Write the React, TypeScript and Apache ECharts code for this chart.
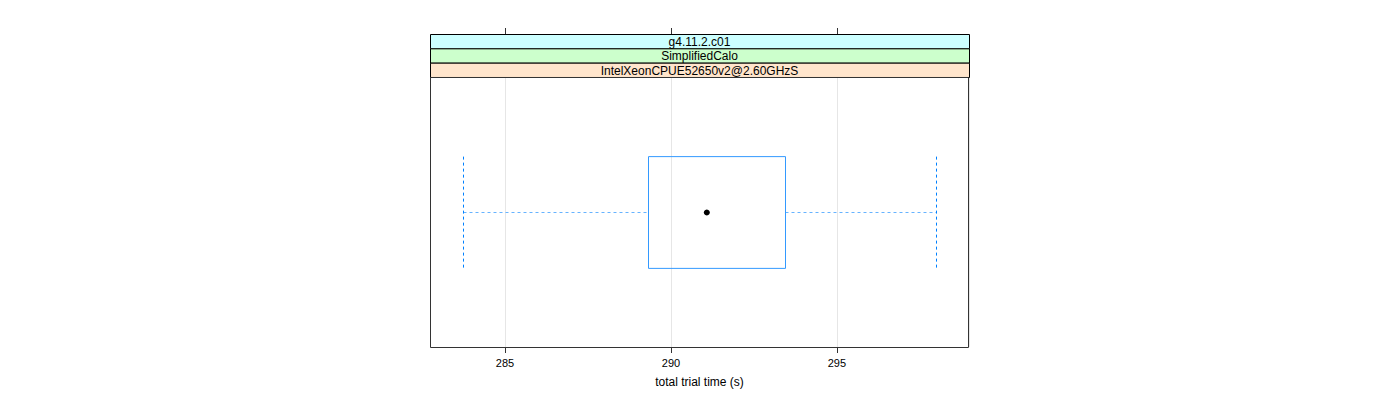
import React, { useEffect, useRef } from "react";
import * as echarts from "echarts";

const stripLabels = ["g4.11.2.c01", "SimplifiedCalo", "IntelXeonCPUE52650v2@2.60GHzS"];
const stripColors = ["#CCFFFF", "#CCFFCC", "#FFE5CC"];
const categories = ["IntelXeonCPUE52650v2@2.60GHzS"];
// [low whisker, Q1, median, Q3, high whisker]
const boxStats = [[283.74, 289.31, 291.08, 293.43, 297.98]];
const xTicks = [285, 290, 295];
const xMin = 282.74;
const xMax = 298.98;
const xTitle = "total trial time (s)";

const PANEL_LEFT = 430;
const PANEL_WIDTH = 539;
const STRIP_TOP = 34;
const STRIP_H = 14.33;
const PANEL_TOP = 77;
const PANEL_HEIGHT = 270;
const FONT = "'Liberation Sans', Arial, Helvetica, sans-serif";

export default function App() {
  const ref = useRef<HTMLDivElement>(null);
  useEffect(() => {
    document.body.style.margin = "0";
    if (!ref.current) return;
    const chart = echarts.init(ref.current, null, { renderer: "svg" });

    const graphics: any[] = stripLabels.map((label, i) => ({
      type: "group",
      children: [
        {
          type: "rect",
          shape: { x: PANEL_LEFT + 0.5, y: STRIP_TOP + i * STRIP_H + 0.5, width: PANEL_WIDTH, height: STRIP_H },
          style: { fill: stripColors[i], stroke: "#000", lineWidth: 1 },
          z: 10,
        },
        {
          type: "text",
          x: PANEL_LEFT + PANEL_WIDTH / 2,
          y: STRIP_TOP + i * STRIP_H + STRIP_H / 2 + 1,
          style: {
            text: label,
            fill: "#000",
            font: `12px ${FONT}`,
            align: "center",
            verticalAlign: "middle",
          },
          z: 11,
        },
      ],
    }));
    graphics.push({
      type: "rect",
      shape: { x: PANEL_LEFT + 0.5, y: PANEL_TOP + 0.5, width: PANEL_WIDTH - 1, height: PANEL_HEIGHT },
      style: { fill: "none", stroke: "#333", lineWidth: 1 },
      z: 20,
      silent: true,
    });

    const r = (v: number) => Math.round(v) + 0.5;
    const panelBottom = PANEL_TOP + PANEL_HEIGHT;

    const tickSeries = (y1: number, y2: number) => ({
      type: "custom",
      clip: false,
      silent: true,
      z: 30,
      encode: { x: 0 },
      data: xTicks.map((v) => [v]),
      renderItem: (params: any, api: any) => {
        const x = r(api.coord([api.value(0), 0])[0]);
        return {
          type: "rect",
          shape: { x: x - 0.5, y: y1, width: 1, height: y2 - y1 },
          style: { fill: "#333" },
        };
      },
    });

    const option: any = {
      animation: false,
      backgroundColor: "#fff",
      textStyle: { fontFamily: FONT },
      grid: [
        {
          left: PANEL_LEFT,
          width: PANEL_WIDTH,
          top: PANEL_TOP,
          height: PANEL_HEIGHT,
          show: false,
        },
      ],
      xAxis: [
        {
          type: "value",
          min: xMin,
          max: xMax,
          splitNumber: 3,
          name: xTitle,
          nameLocation: "middle",
          nameGap: 29,
          nameTextStyle: { color: "#000", fontSize: 12, fontFamily: FONT },
          axisLine: { show: false },
          axisTick: { show: false },
          axisLabel: {
            show: true,
            margin: 10,
            color: "#000",
            fontSize: 11,
            fontFamily: FONT,
            customValues: xTicks,
          },
          splitLine: { show: true, lineStyle: { color: "#E6E6E6", width: 1 } },
        },
      ],
      yAxis: [
        {
          type: "category",
          data: categories,
          axisLine: { show: false },
          axisTick: { show: false },
          axisLabel: { show: false },
          splitLine: { show: false },
        },
      ],
      graphic: graphics,
      series: [
        tickSeries(panelBottom, panelBottom + 6),
        tickSeries(STRIP_TOP - 6, STRIP_TOP),
        {
          type: "custom",
          encode: { x: [1, 2, 3, 4, 5], y: 0 },
          data: boxStats.map((s, i) => [i, ...s]),
          renderItem: (params: any, api: any) => {
            const cat = api.value(0);
            const low = api.coord([api.value(1), cat]);
            const q1 = api.coord([api.value(2), cat]);
            const med = api.coord([api.value(3), cat]);
            const q3 = api.coord([api.value(4), cat]);
            const high = api.coord([api.value(5), cat]);
            const band = api.size([0, 1])[1];
            const h = band * 0.207;
            const yc = Math.round(med[1]) + 0.5;
            const blue = "#0080FF";
            const dash = { stroke: blue, lineWidth: 1, lineDash: [3, 3] };
            return {
              type: "group",
              children: [
                {
                  type: "line",
                  shape: { x1: r(low[0]), y1: yc, x2: r(q1[0]), y2: yc },
                  style: { ...dash, stroke: "#66B3FF" },
                },
                {
                  type: "line",
                  shape: { x1: r(q3[0]), y1: yc, x2: r(high[0]), y2: yc },
                  style: { ...dash, stroke: "#66B3FF" },
                },
                {
                  type: "line",
                  shape: { x1: r(low[0]), y1: yc - h, x2: r(low[0]), y2: yc + h },
                  style: dash,
                },
                {
                  type: "line",
                  shape: { x1: r(high[0]), y1: yc - h, x2: r(high[0]), y2: yc + h },
                  style: dash,
                },
                {
                  type: "rect",
                  shape: { x: r(q1[0]), y: yc - h, width: Math.round(q3[0] - q1[0]), height: 2 * h },
                  style: { fill: "rgba(0,0,0,0)", stroke: "#3399FF", lineWidth: 1 },
                },
                {
                  type: "circle",
                  shape: { cx: med[0], cy: yc, r: 3 },
                  style: { fill: "#000" },
                },
              ],
            };
          },
        },
      ],
    };
    chart.setOption(option);
    return () => chart.dispose();
  }, []);
  return <div ref={ref} style={{ width: 1400, height: 400 }} />;
}
